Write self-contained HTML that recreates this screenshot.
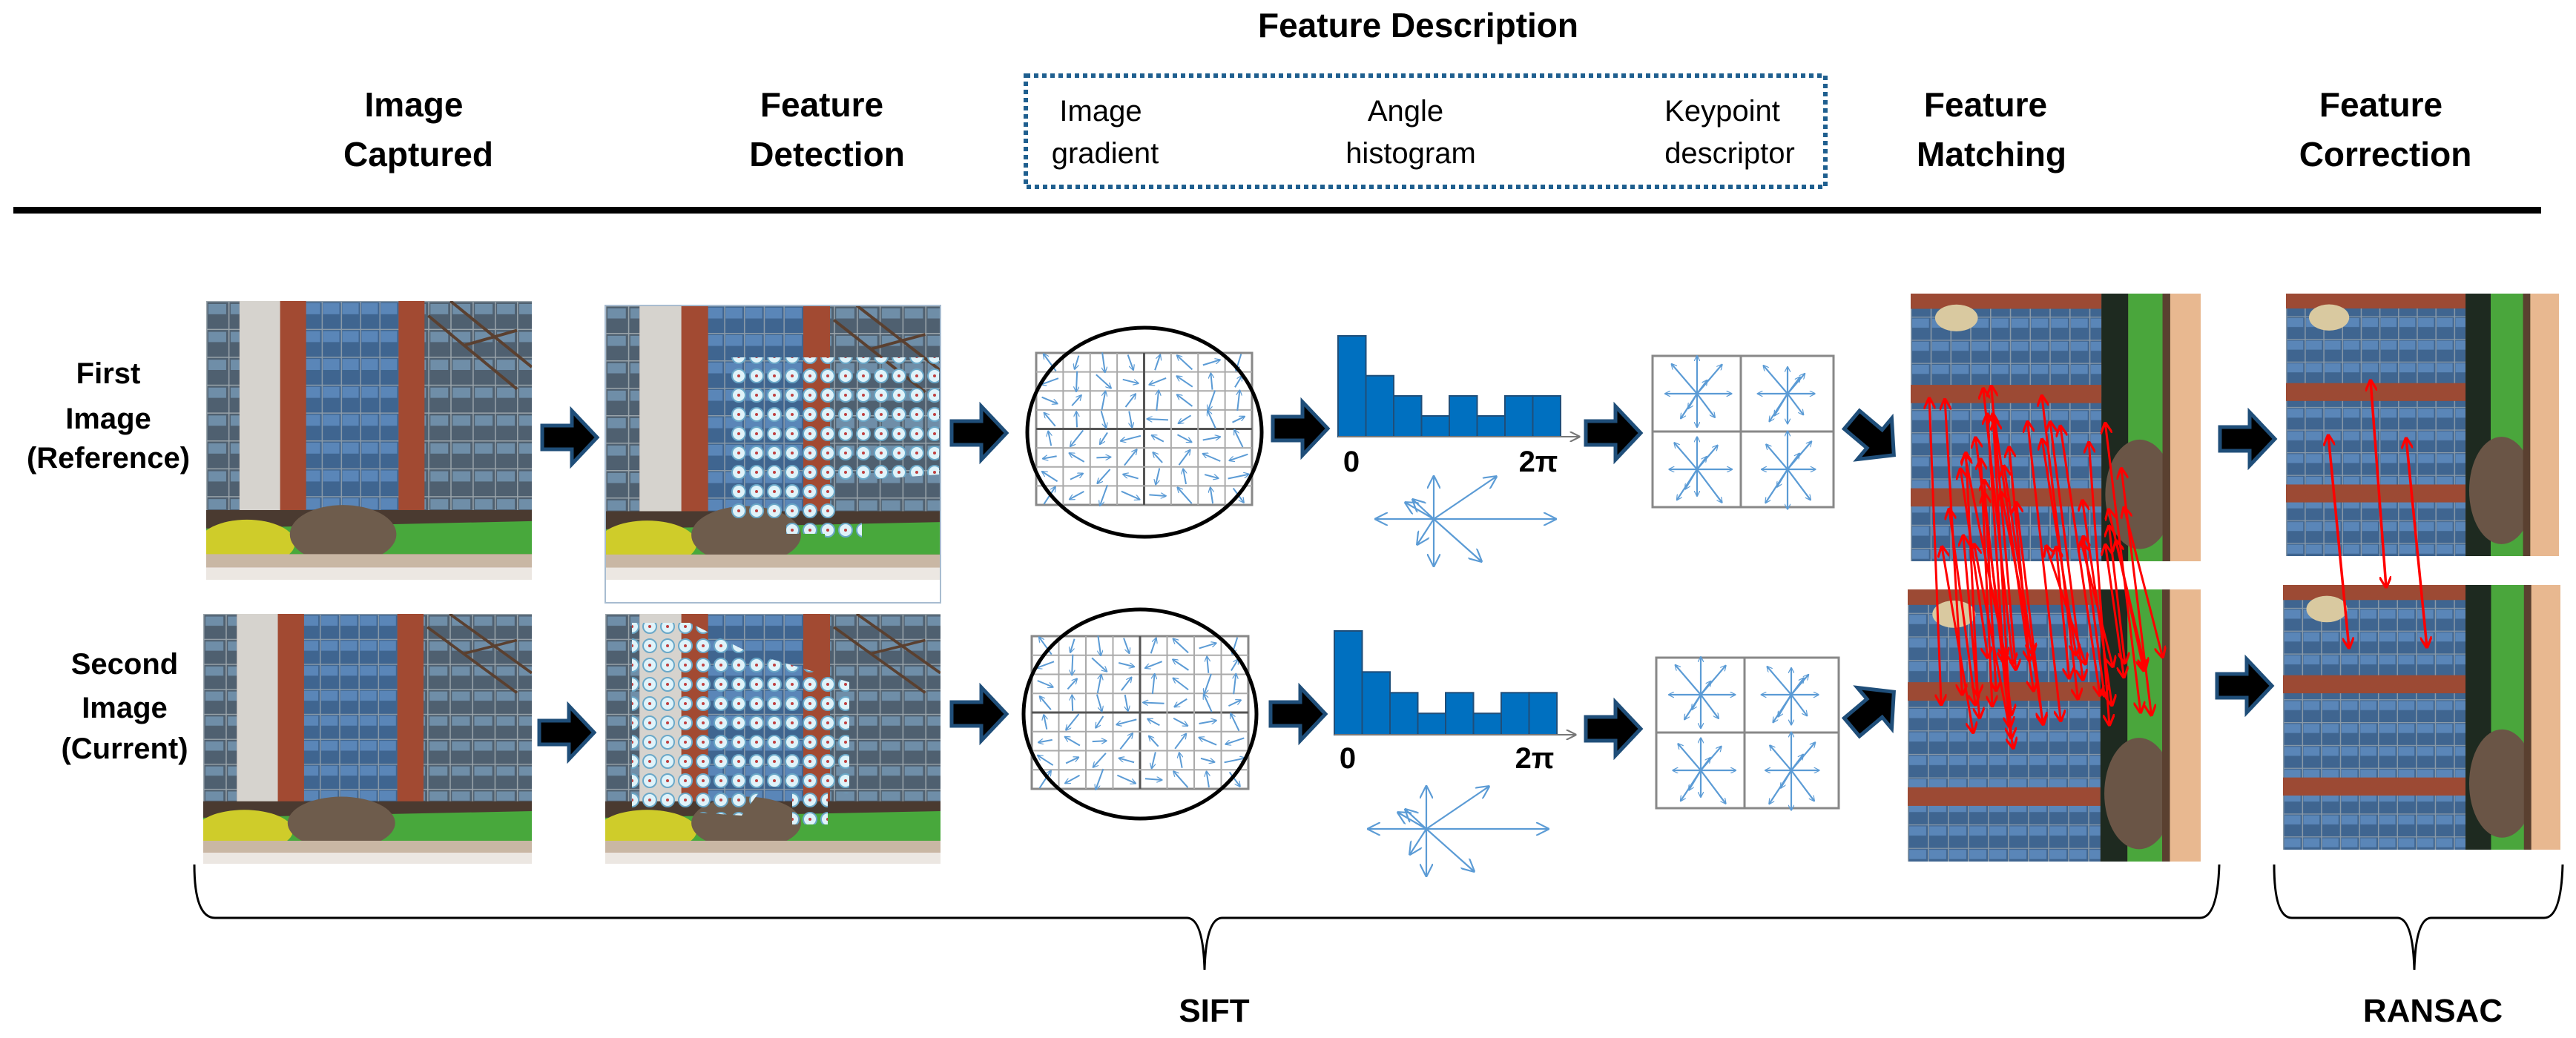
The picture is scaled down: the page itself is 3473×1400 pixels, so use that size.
<!DOCTYPE html>
<html><head><meta charset="utf-8"><style>
html,body{margin:0;padding:0;background:#fff;}
svg{display:block;}
text{font-family:"Liberation Sans",sans-serif;}
</style></head><body>
<svg id="S" width="3473" height="1400" viewBox="0 0 3473 1400" xmlns="http://www.w3.org/2000/svg">
<defs>
  <marker id="mb" viewBox="0 0 10 10" refX="9" refY="5" markerWidth="8" markerHeight="8" orient="auto-start-reverse" markerUnits="userSpaceOnUse">
    <path d="M0,0 L10,5 L0,10" fill="none" stroke="#5b9bd5" stroke-width="1.5"/>
  </marker>
  <marker id="mbl" viewBox="0 0 10 10" refX="9" refY="5" markerWidth="18" markerHeight="18" orient="auto" markerUnits="userSpaceOnUse">
    <path d="M0,0 L10,5 L0,10" fill="none" stroke="#5b9bd5" stroke-width="1.2"/>
  </marker>
  <marker id="mr" viewBox="0 0 10 10" refX="9" refY="5" markerWidth="16" markerHeight="16" orient="auto-start-reverse" markerUnits="userSpaceOnUse">
    <path d="M0,0 L10,5 L0,10" fill="none" stroke="#ff0000" stroke-width="2"/>
  </marker>
  <marker id="mg" viewBox="0 0 10 10" refX="9" refY="5" markerWidth="14" markerHeight="14" orient="auto" markerUnits="userSpaceOnUse">
    <path d="M0,0 L10,5 L0,10" fill="none" stroke="#777" stroke-width="1.5"/>
  </marker>
  <pattern id="win" width="26" height="38" patternUnits="userSpaceOnUse">
    <rect width="26" height="38" fill="#3f6590"/>
    <rect x="2" y="3" width="22" height="15" fill="#5a86b8"/>
    <path d="M0,0 H26 M0,0 V38" stroke="#8a9aa8" stroke-width="3"/>
  </pattern>
  <pattern id="win2" width="30" height="38" patternUnits="userSpaceOnUse">
    <rect width="30" height="38" fill="#4f6070"/>
    <rect x="3" y="4" width="24" height="14" fill="#6f8ea8"/>
    <path d="M0,0 H30 M0,0 V38" stroke="#9aa4aa" stroke-width="3"/>
  </pattern>
  <pattern id="dots" width="24" height="26" patternUnits="userSpaceOnUse">
    <circle cx="12" cy="13" r="9" fill="#dff3fa" stroke="#6aa8c8" stroke-width="2"/>
    <circle cx="12" cy="13" r="2" fill="#c04040"/>
  </pattern>
  <g id="bldg">
    <rect width="440" height="380" fill="#8c4535"/>
    <rect x="0" y="0" width="45" height="300" fill="url(#win2)"/>
    <rect x="45" y="0" width="55" height="325" fill="#d6d3ce"/>
    <rect x="100" y="0" width="35" height="300" fill="#a24a32"/>
    <rect x="135" y="0" width="125" height="290" fill="url(#win)"/>
    <rect x="260" y="0" width="35" height="300" fill="#a24a32"/>
    <rect x="295" y="0" width="145" height="290" fill="url(#win2)"/>
    <path d="M300,20 L420,120 M330,0 L440,90 M350,60 L420,40" stroke="#5a4030" stroke-width="4"/>
    <rect x="0" y="285" width="440" height="25" fill="#4a3a30"/>
    <polygon points="0,310 440,300 440,345 0,345" fill="#48a83c"/>
    <ellipse cx="55" cy="330" rx="65" ry="32" fill="#cfcc2a"/>
    <ellipse cx="185" cy="318" rx="72" ry="40" fill="#6e5c4c"/>
    <rect x="0" y="345" width="440" height="18" fill="#c9b7a4"/>
    <rect x="0" y="363" width="440" height="17" fill="#ece7e2"/>
  </g>
  <g id="bldgR">
    <rect width="380" height="440" fill="#8c4535"/>
    <rect x="0" y="0" width="250" height="440" fill="url(#win)"/>
    <rect x="0" y="150" width="250" height="30" fill="#9c4a34"/>
    <rect x="0" y="320" width="250" height="30" fill="#9c4a34"/>
    <rect x="0" y="0" width="250" height="25" fill="#9c4a34"/>
    <rect x="250" y="0" width="35" height="440" fill="#1e2a20"/>
    <rect x="285" y="0" width="55" height="440" fill="#4aa63c"/>
    <ellipse cx="300" cy="330" rx="45" ry="90" fill="#6a5546"/>
    <rect x="340" y="0" width="40" height="440" fill="#e8b890"/>
    <rect x="330" y="0" width="10" height="440" fill="#5a4030"/>
    <ellipse cx="60" cy="40" rx="28" ry="22" fill="#d9c9a0"/>
  </g>
  <g id="bar"><polygon points="0,20 40,20 40,0 74,36 40,72 40,52 0,52" fill="#000" stroke="#1f4e79" stroke-width="5" stroke-linejoin="miter"/></g>
</defs>

<!-- header -->
<text x="1912" y="50" font-size="46" font-weight="bold" text-anchor="middle">Feature Description</text>
<g font-size="46" font-weight="bold" text-anchor="middle">
  <text x="558" y="157">Image</text><text x="564" y="224">Captured</text>
  <text x="1108" y="157">Feature</text><text x="1115" y="224">Detection</text>
  <text x="2677" y="157">Feature</text><text x="2685" y="224">Matching</text>
  <text x="3210" y="157">Feature</text><text x="3216" y="224">Correction</text>
</g>
<rect x="1383" y="102" width="1078" height="150" fill="none" stroke="#1f5f8f" stroke-width="6" stroke-dasharray="6 5"/>
<g font-size="40" text-anchor="middle">
  <text x="1484" y="163">Image</text><text x="1490" y="220">gradient</text>
  <text x="1895" y="163">Angle</text><text x="1902" y="220">histogram</text>
  <text x="2322" y="163">Keypoint</text><text x="2332" y="220">descriptor</text>
</g>
<rect x="18" y="279" width="3408" height="9" fill="#000"/>

<!-- row labels -->
<g font-size="40" font-weight="bold" text-anchor="middle">
  <text x="146" y="517">First</text><text x="146" y="578">Image</text><text x="146" y="631">(Reference)</text>
  <text x="168" y="909">Second</text><text x="168" y="968">Image</text><text x="168" y="1023">(Current)</text>
</g>

<!-- photos -->
<svg x="278" y="406" width="439" height="376" viewBox="0 0 440 380" preserveAspectRatio="none"><use href="#bldg"/></svg>
<svg x="274" y="828" width="443" height="337" viewBox="0 0 440 380" preserveAspectRatio="none"><use href="#bldg"/></svg>
<svg x="816" y="412" width="452" height="370" viewBox="0 0 440 380" preserveAspectRatio="none"><use href="#bldg"/></svg>
<rect x="816" y="412" width="452" height="401" fill="none" stroke="#a8bcd0" stroke-width="2"/>
<svg x="816" y="828" width="452" height="337" viewBox="0 0 440 380" preserveAspectRatio="none"><use href="#bldg"/></svg>
<polygon points="986,482 1266,482 1266,640 1130,650 1130,720 1060,720 1060,700 986,700" fill="url(#dots)"/>
<rect x="1112" y="705" width="50" height="26" fill="url(#dots)"/>
<polygon points="852,840 930,840 1010,880 1145,920 1145,1070 1030,1060 1000,1100 852,1090" fill="url(#dots)"/>
<rect x="1068" y="1064" width="48" height="48" fill="url(#dots)"/>

<svg x="2576" y="396" width="391" height="361" viewBox="0 0 380 440" preserveAspectRatio="none"><use href="#bldgR"/></svg>
<svg x="2572" y="795" width="395" height="367" viewBox="0 0 380 440" preserveAspectRatio="none"><use href="#bldgR"/></svg>
<svg x="3082" y="396" width="368" height="354" viewBox="0 0 380 440" preserveAspectRatio="none"><use href="#bldgR"/></svg>
<svg x="3078" y="789" width="374" height="357" viewBox="0 0 380 440" preserveAspectRatio="none"><use href="#bldgR"/></svg>

<!-- ellipses / grids -->
<g id="grids"></g>
<ellipse cx="1543" cy="583" rx="158" ry="141" fill="none" stroke="#000" stroke-width="5"/>
<ellipse cx="1537" cy="963" rx="157" ry="141" fill="none" stroke="#000" stroke-width="5"/>

<!-- histograms -->
<g id="hist"></g>
<g font-size="40" font-weight="bold" text-anchor="middle">
  <text x="1822" y="636">0</text><text x="2074" y="636">2π</text>
  <text x="1817" y="1036">0</text><text x="2069" y="1036">2π</text>
</g>

<!-- keypoint boxes -->
<g fill="#fff" stroke="#888" stroke-width="3">
  <rect x="2228" y="480" width="244" height="204"/>
  <line x1="2347" y1="480" x2="2347" y2="684"/><line x1="2228" y1="582" x2="2472" y2="582"/>
  <rect x="2233" y="887" width="246" height="203"/>
  <line x1="2352" y1="887" x2="2352" y2="1090"/><line x1="2233" y1="988" x2="2479" y2="988"/>
</g>
<g id="stars"></g>

<!-- red lines -->
<g id="red" stroke="#ff0000" stroke-width="3" fill="none"></g>
<g stroke="#ff0000" stroke-width="3.5" fill="none">
  <line x1="3139" y1="587" x2="3167" y2="874" marker-start="url(#mr)" marker-end="url(#mr)"/>
  <line x1="3196" y1="513" x2="3217" y2="792" marker-start="url(#mr)" marker-end="url(#mr)"/>
  <line x1="3244" y1="591" x2="3272" y2="873" marker-start="url(#mr)" marker-end="url(#mr)"/>
</g>

<!-- block arrows -->
<use href="#bar" transform="translate(731,554)"/>
<use href="#bar" transform="translate(727,952)"/>
<use href="#bar" transform="translate(1283,548)"/>
<use href="#bar" transform="translate(1283,927)"/>
<use href="#bar" transform="translate(1716,542)"/>
<use href="#bar" transform="translate(1713,927)"/>
<use href="#bar" transform="translate(2138,548)"/>
<use href="#bar" transform="translate(2138,947)"/>
<use href="#bar" transform="translate(2525,590) rotate(40) translate(-37,-36)"/>
<use href="#bar" transform="translate(2525,957) rotate(-40) translate(-37,-36)"/>
<use href="#bar" transform="translate(2993,556)"/>
<use href="#bar" transform="translate(2989,889)"/>

<!-- braces -->
<g fill="none" stroke="#000" stroke-width="3">
  <path d="M262,1166 Q262,1238 290,1238 L1600,1238 Q1622,1238 1624,1308 Q1626,1238 1648,1238 L2966,1238 Q2990,1238 2992,1166"/>
  <path d="M3066,1166 Q3066,1238 3090,1238 L3232,1238 Q3253,1238 3255,1308 Q3257,1238 3278,1238 L3430,1238 Q3453,1238 3455,1166"/>
</g>
<g font-size="44" font-weight="bold" text-anchor="middle">
  <text x="1637" y="1378">SIFT</text><text x="3280" y="1378">RANSAC</text>
</g>
</svg>
<script>
(function(){
var NS="http://www.w3.org/2000/svg";
function el(p,t,a){var e=document.createElementNS(NS,t);for(var k in a)e.setAttribute(k,a[k]);p.appendChild(e);return e;}
var seed=7;function rnd(){seed=(seed*9301+49297)%233280;return seed/233280;}
var G=document.getElementById('grids');
[[1397,476,291,205],[1391,858,292,206]].forEach(function(g){
  var x=g[0],y=g[1],w=g[2],h=g[3],cw=w/8,ch=h/8;seed=11;
  el(G,'rect',{x:x,y:y,width:w,height:h,fill:'#fff',stroke:'#888','stroke-width':3});
  for(var i=1;i<8;i++){
    el(G,'line',{x1:x+i*cw,y1:y,x2:x+i*cw,y2:y+h,stroke:i==4?'#555':'#aaa','stroke-width':i==4?3:2});
    el(G,'line',{x1:x,y1:y+i*ch,x2:x+w,y2:y+i*ch,stroke:i==4?'#555':'#aaa','stroke-width':i==4?3:2});
  }
  for(var r=0;r<8;r++)for(var c=0;c<8;c++){
    var cx=x+(c+.5)*cw,cy=y+(r+.5)*ch,a=rnd()*6.283,L=9+rnd()*6;
    el(G,'line',{x1:cx-Math.cos(a)*L,y1:cy-Math.sin(a)*L,x2:cx+Math.cos(a)*L,y2:cy+Math.sin(a)*L,stroke:'#5b9bd5','stroke-width':2,'marker-end':'url(#mb)'});
  }
});
var H=document.getElementById('hist');
var rat=[1,.605,.405,.206,.405,.206,.405,.405];
[[1804,453,589],[1799,851,991]].forEach(function(h){
  var bw=300/8,full=h[2]-h[1];
  rat.forEach(function(r,i){el(H,'rect',{x:h[0]+i*bw,y:h[2]-full*r,width:bw,height:full*r,fill:'#0070c0',stroke:'#1f4e79','stroke-width':2});});
  el(H,'line',{x1:h[0],y1:h[2],x2:h[0]+325,y2:h[2],stroke:'#777','stroke-width':2,'marker-end':'url(#mg)'});
});
var S=document.getElementById('stars');
function star(cx,cy,s,v){
  var arr=v==0?[[164,0],[-78,0],[0,-57],[0,63],[84,-57],[64,57],[-28,-26],[-22,34],[-38,-22]]
    :[[40,0],[-40,0],[0,-45],[0,45],[30,-35],[30,40],[-30,-35],[-25,38],[15,-20],[-15,25]];
  seed=v*13+5;
  arr.forEach(function(d){
    var j=v==0?1:(0.7+rnd()*0.5);
    el(S,'line',{x1:cx,y1:cy,x2:cx+d[0]*s*j,y2:cy+d[1]*s*j,stroke:'#5b9bd5','stroke-width':2.2,'marker-end':v==0?'url(#mbl)':'url(#mb)'});
  });
}
star(1933,700,1,0);star(1923,1118,1,0);
[[2288,531],[2410,531],[2288,633],[2410,633],[2293,937],[2415,937],[2293,1039],[2415,1039]].forEach(function(p,i){star(p[0],p[1],1,i%4+1);});
var R=document.getElementById('red');seed=3;
for(var i=0;i<40;i++){
  var x1=2600+rnd()*270,y1=515+rnd()*235,x2=x1+15+rnd()*40,y2=880+rnd()*135;
  el(R,'line',{x1:x1,y1:y1,x2:x2,y2:y2,'marker-start':'url(#mr)','marker-end':'url(#mr)'});
}
})();
</script>
</body></html>
